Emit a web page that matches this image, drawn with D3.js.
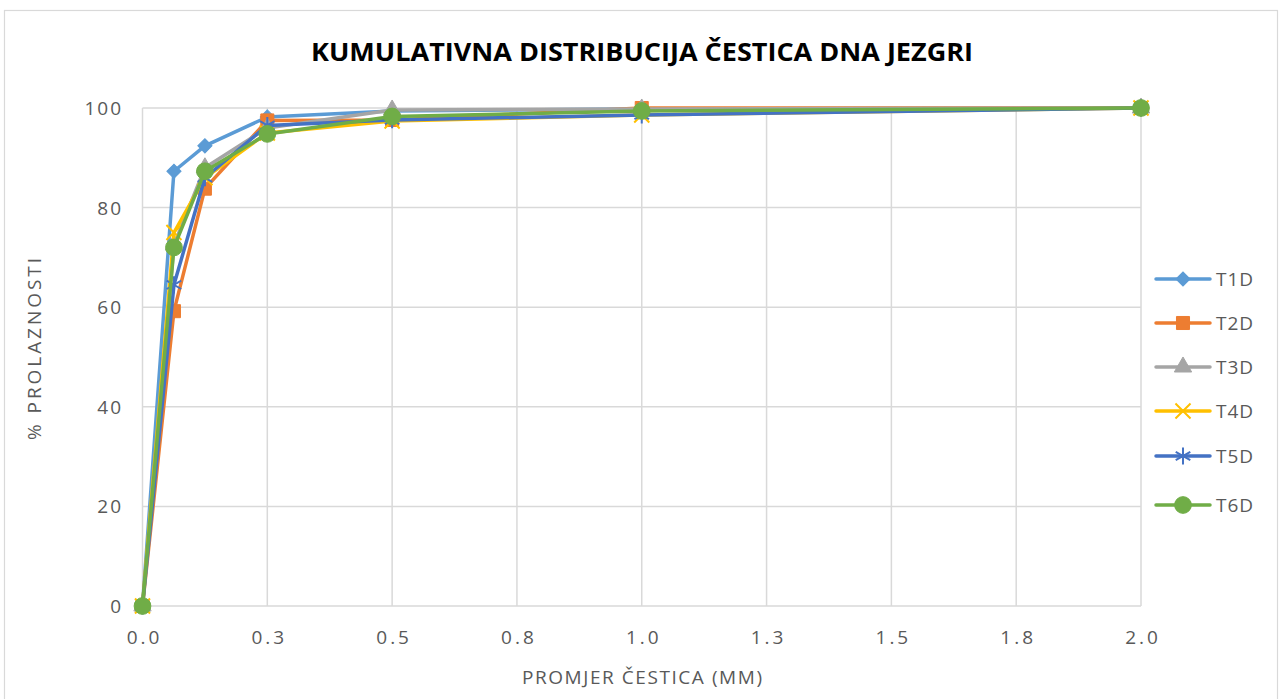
<!DOCTYPE html>
<html>
<head>
<meta charset="utf-8">
<script src="https://cdn.jsdelivr.net/npm/d3@7"></script>
<style>
  body { margin: 0; background: #fff; }
  text { font-family: "Open Sans", "DejaVu Sans", sans-serif; }
</style>
</head>
<body>
<div id="chart"></div>
<script>
// particle size (mm) and cumulative passing (%) per sample
var sizes = [0, 0.063, 0.125, 0.25, 0.5, 1.0, 2.0];
var seriesNames = ["T1D", "T2D", "T3D", "T4D", "T5D", "T6D"];
var t1d = [0, 87.3, 92.4, 98.2, 99.4, 99.8, 100];
var t2d = [0, 59.2, 83.8, 97.5, 97.6, 100, 100];
var t3d = [0, 72.5, 88.0, 96.0, 99.6, 99.8, 100];
var t4d = [0, 75.0, 86.0, 95.0, 97.4, 98.6, 100];
var t5d = [0, 64.5, 86.0, 96.5, 97.6, 98.6, 100];
var t6d = [0, 72.0, 87.3, 94.8, 98.3, 99.4, 100];
var xTicks = [0, 0.25, 0.5, 0.75, 1.0, 1.25, 1.5, 1.75, 2.0];
var yTicks = [0, 20, 40, 60, 80, 100];

var allValues = [t1d, t2d, t3d, t4d, t5d, t6d];
var colors = ["#5B9BD5", "#ED7D31", "#A5A5A5", "#FFC000", "#4472C4", "#70AD47"];
var shapes = [d3.symbolSquare, d3.symbolSquare, d3.symbolTriangle, d3.symbolX, d3.symbolAsterisk, d3.symbolCircle];
var shapeSize = [100, 170, 130, 150, 200, 220];

var W = 1282, H = 699;
var plotLeft = 142.5, plotRight = 1141, plotTop = 108, plotBottom = 606;

var svg = d3.select("#chart").append("svg")
  .attr("width", W).attr("height", H);

// outer frame
svg.append("rect")
  .attr("x", 4.5).attr("y", 10.5).attr("width", 1273).attr("height", 700)
  .style("fill", "none").style("stroke", "#d9d9d9").style("stroke-width", 1.2);

var x = d3.scaleLinear().domain([0, 2]).range([plotLeft, plotRight]);
var y = d3.scaleLinear().domain([0, 100]).range([plotBottom, plotTop]);

// grid
svg.append("g").selectAll("line").data(yTicks).enter().append("line")
  .attr("x1", plotLeft).attr("x2", plotRight)
  .attr("y1", function(d){ return y(d); }).attr("y2", function(d){ return y(d); })
  .style("stroke", "#d9d9d9").style("stroke-width", 1.5);
svg.append("g").selectAll("line").data(xTicks).enter().append("line")
  .attr("x1", function(d){ return x(d); }).attr("x2", function(d){ return x(d); })
  .attr("y1", plotTop).attr("y2", plotBottom)
  .style("stroke", "#d9d9d9").style("stroke-width", 1.5);

// tick labels
svg.append("g").selectAll("text").data(yTicks).enter().append("text")
  .attr("x", 123).attr("y", function(d){ return y(d) + 7; })
  .attr("text-anchor", "end")
  .style("font-size", "19px").style("fill", "#595959")
  .style("letter-spacing", "2px")
  .text(function(d){ return d; });

svg.append("g").selectAll("text").data(xTicks).enter().append("text")
  .attr("x", function(d){ return x(d) + 2; }).attr("y", 644)
  .attr("text-anchor", "middle")
  .style("font-size", "19px").style("fill", "#595959")
  .style("letter-spacing", "3px")
  .text(function(d){ return (Math.round(d * 10 + 1e-9) / 10).toFixed(1); });

// title and axis titles
svg.append("text")
  .attr("x", 642).attr("y", 61).attr("text-anchor", "middle")
  .attr("textLength", 662).attr("lengthAdjust", "spacingAndGlyphs")
  .style("font-size", "25px").style("font-weight", "bold").style("fill", "#000")
  .text("KUMULATIVNA DISTRIBUCIJA ČESTICA DNA JEZGRI");

svg.append("text")
  .attr("x", 642).attr("y", 684).attr("text-anchor", "middle")
  .attr("textLength", 240).attr("lengthAdjust", "spacing")
  .style("font-size", "19px").style("fill", "#595959")
  .text("PROMJER ČESTICA (MM)");

svg.append("text")
  .attr("transform", "translate(41,349) rotate(-90)").attr("text-anchor", "middle")
  .attr("textLength", 182).attr("lengthAdjust", "spacing")
  .style("font-size", "19px").style("fill", "#595959")
  .text("% PROLAZNOSTI");

// series
var line = d3.line()
  .x(function(d){ return x(d[0]); })
  .y(function(d){ return y(d[1]); });

function marker(sel, i) {
  var sym = d3.symbol().type(shapes[i]).size(shapeSize[i]);
  var stroked = (i === 3 || i === 4);
  sel.attr("d", sym)
    .style("fill", stroked ? "none" : colors[i])
    .style("stroke", colors[i])
    .style("stroke-width", stroked ? 2 : 1);
}

allValues.forEach(function(vals, i){
  var pts = sizes.map(function(s, k){ return [s, vals[k]]; });
  var g = svg.append("g");
  g.append("path").datum(pts)
    .attr("d", line)
    .style("fill", "none").style("stroke", colors[i])
    .style("stroke-width", 3.5).style("stroke-linejoin", "round");
  g.selectAll("path.m").data(pts).enter().append("path")
    .attr("class", "m")
    .attr("transform", function(d){
      return "translate(" + x(d[0]) + "," + y(d[1]) + ")" + (i === 0 ? " rotate(45)" : "");
    })
    .call(marker, i);
});

// legend
var legend = svg.append("g");
var legY = [279, 323, 367, 411, 456, 505];
seriesNames.forEach(function(name, i){
  var g = legend.append("g").attr("transform", "translate(0," + legY[i] + ")");
  g.append("line").attr("x1", 1156).attr("x2", 1210).attr("y1", 0).attr("y2", 0)
    .style("stroke", colors[i]).style("stroke-width", 3.5).style("stroke-linecap", "round");
  g.append("path").attr("transform", "translate(1183,0)" + (i === 0 ? " rotate(45)" : ""))
    .call(marker, i);
  g.append("text").attr("x", 1216).attr("y", 7)
    .style("font-size", "19px").style("fill", "#595959")
    .style("letter-spacing", "1px")
    .text(name);
});
</script>
</body>
</html>
